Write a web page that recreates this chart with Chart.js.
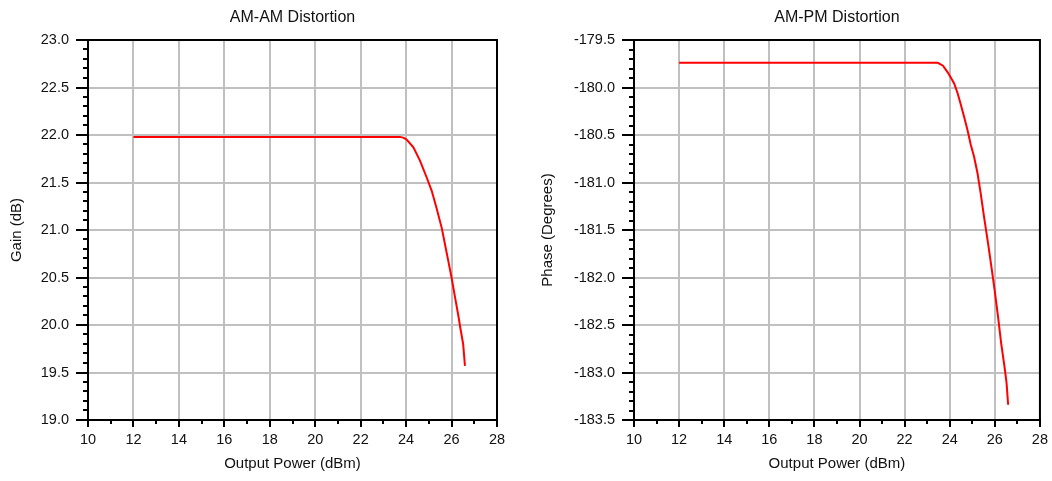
<!DOCTYPE html>
<html>
<head>
<meta charset="utf-8">
<script src="https://cdn.jsdelivr.net/npm/chart.js@4.4.1/dist/chart.umd.min.js"></script>
<style>
  body { margin: 0; background: #fff; }
  .box { position: absolute; top: 0; width: 526px; height: 481px; }
</style>
</head>
<body>
<div class="box" style="left:0"><canvas id="gainChart" width="526" height="481"></canvas></div>
<div class="box" style="left:526px"><canvas id="phaseChart" width="526" height="481"></canvas></div>
<script>
// AM-AM curve (output power dBm -> gain dB)
const gainX = [12, 23.74, 23.9, 24.03, 24.32, 24.61, 24.91, 25.13, 25.35, 25.57, 25.71, 25.86, 26.0, 26.14, 26.29, 26.4, 26.51, 26.59];
const gainY = [21.98, 21.98, 21.97, 21.95, 21.87, 21.73, 21.55, 21.41, 21.22, 21.02, 20.85, 20.67, 20.5, 20.31, 20.11, 19.95, 19.8, 19.57];

// AM-PM curve (output power dBm -> phase degrees)
const phaseX = [12, 23.47, 23.7, 23.91, 24.06, 24.2, 24.35, 24.49, 24.64, 24.79, 24.93, 25.08, 25.23, 25.37, 25.52, 25.7, 25.85, 25.99, 26.14, 26.28, 26.43, 26.52, 26.59];
const phaseY = [-179.74, -179.74, -179.77, -179.84, -179.9, -179.96, -180.06, -180.18, -180.31, -180.45, -180.6, -180.73, -180.9, -181.11, -181.36, -181.64, -181.89, -182.13, -182.41, -182.69, -182.94, -183.11, -183.34];

// axis ranges / ticks
const xTicks = [10, 12, 14, 16, 18, 20, 22, 24, 26, 28];
const gainRange = [19, 23];
const phaseRange = [-183.5, -179.5];

const textColor = "#111";
const fontFamily = "'Liberation Sans', Arial, sans-serif";

// frame round the plot + minor ticks
const framePlugin = {
  id: "frame",
  afterDraw(chart) {
    const { ctx, chartArea: a, scales } = chart;
    const y = scales.y, x = scales.x;
    ctx.save();
    ctx.strokeStyle = "#000";
    ctx.lineWidth = 2;
    ctx.strokeRect(a.left, a.top, a.right - a.left, a.bottom - a.top);
    ctx.beginPath();
    for (let v = y.min; v <= y.max + 1e-6; v += 0.1) {
      const k = v / 0.5;
      if (Math.abs(k - Math.round(k)) < 1e-6) continue;
      const py = Math.round(y.getPixelForValue(v));
      ctx.moveTo(a.left - 5, py);
      ctx.lineTo(a.left, py);
    }
    for (let v = x.min + 1; v < x.max; v += 2) {
      const px = Math.round(x.getPixelForValue(v));
      ctx.moveTo(px, a.bottom);
      ctx.lineTo(px, a.bottom + 4);
    }
    ctx.stroke();
    ctx.restore();
  }
};

function makeChart(id, title, yTitle, xs, ys, range, axisWidth, rightPad, yTitlePad) {
  const ctx = document.getElementById(id).getContext("2d");
  return new Chart(ctx, {
    type: "line",
    data: {
      datasets: [{
        data: xs.map((v, i) => ({ x: v, y: ys[i] })),
        borderColor: "#ff0000",
        borderWidth: 2,
        pointRadius: 0,
        tension: 0,
        fill: false
      }]
    },
    options: {
      responsive: false,
      animation: false,
      layout: { padding: { left: 0, right: rightPad, top: 0, bottom: 0 } },
      plugins: {
        legend: { display: false },
        tooltip: { enabled: false },
        title: {
          display: true,
          text: title,
          fullSize: false,
          color: textColor,
          font: { family: fontFamily, size: 16, weight: "normal" },
          padding: { top: 8, bottom: 12.8 }
        }
      },
      scales: {
        x: {
          type: "linear",
          min: xTicks[0],
          max: xTicks[xTicks.length - 1],
          afterBuildTicks: (s) => { s.ticks = xTicks.map(v => ({ value: v })); },
          afterFit: (s) => { s.height = 61; },
          ticks: {
            color: textColor,
            font: { family: fontFamily, size: 14.5 },
            padding: 4,
            maxRotation: 0,
            autoSkip: false
          },
          grid: { color: "#c0c0c0", lineWidth: 2, tickColor: "#000", tickLength: 7, tickWidth: 2 },
          border: { color: "#000", width: 2 },
          title: {
            display: true,
            text: "Output Power (dBm)",
            color: textColor,
            font: { family: fontFamily, size: 15 },
            padding: { top: 0, bottom: 8 }
          }
        },
        y: {
          min: range[0],
          max: range[1],
          afterFit: (s) => { s.width = axisWidth; },
          ticks: {
            stepSize: 0.5,
            color: textColor,
            font: { family: fontFamily, size: 14.5 },
            padding: 7,
            autoSkip: false,
            callback: (v) => Number(v).toFixed(1)
          },
          grid: { color: "#c0c0c0", lineWidth: 2, tickColor: "#000", tickLength: 12, tickWidth: 2 },
          border: { color: "#000", width: 2 },
          title: {
            display: true,
            text: yTitle,
            color: textColor,
            font: { family: fontFamily, size: 15 },
            padding: { top: yTitlePad, bottom: 0 }
          }
        }
      }
    },
    plugins: [framePlugin]
  });
}

makeChart("gainChart", "AM-AM Distortion", "Gain (dB)", gainX, gainY, gainRange, 88, 29, 8);
makeChart("phaseChart", "AM-PM Distortion", "Phase (Degrees)", phaseX, phaseY, phaseRange, 108, 9, 13);
</script>
</body>
</html>
